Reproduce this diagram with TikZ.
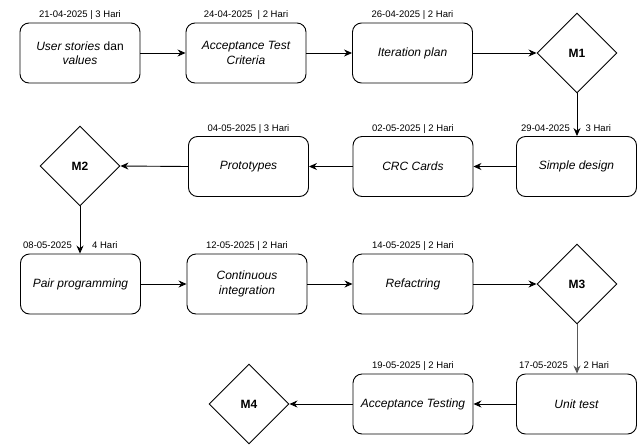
\documentclass[tikz,border=0pt]{standalone}
\usepackage{fontspec}
\setmainfont{Liberation Sans}
\usetikzlibrary{shapes.geometric,arrows.meta,calc}
\begin{document}
\begin{tikzpicture}[x=1pt,y=-1pt,
 box/.style={draw,rounded corners=9pt,line width=0.9pt,minimum width=120pt,minimum height=60pt,align=center,font=\fontsize{12}{14.5}\selectfont\itshape,inner sep=0pt},
 ms/.style={draw,diamond,minimum width=80pt,minimum height=80pt,inner sep=0pt,font=\fontsize{12}{14}\selectfont\bfseries,line width=0.9pt},
 date/.style={font=\fontsize{9.5}{11}\selectfont,inner sep=0pt},
 arr/.style={-{Stealth[length=8pt,width=7pt]},line width=0.9pt}]
\useasboundingbox (0,0) rectangle (637,445);
% row 1
\node[box] (b1) at (80,53) {User stories \upshape dan\\values};
\node[box] (b2) at (246,53) {Acceptance Test\\Criteria};
\node[box] (b3) at (412.5,53) {Iteration plan};
\node[ms] (m1) at (577,53) {M1};
% row 2
\node[box] (b4) at (576.5,166.5) {Simple design};
\node[box] (b5) at (413,166.5) {CRC Cards};
\node[box] (b6) at (248.5,166.5) {Prototypes};
\node[ms] (m2) at (80,166) {M2};
% row 3
\node[box] (b7) at (80.5,284) {Pair programming};
\node[box] (b8) at (247,284) {Continuous\\integration};
\node[box] (b9) at (413,284) {Refactring};
\node[ms] (m3) at (577,284) {M3};
% row 4
\node[box] (b10) at (576.5,404) {Unit test};
\node[box] (b11) at (413,404) {Acceptance Testing};
\node[ms] (m4) at (249,404) {M4};
% dates
\node[date,anchor=base] (d1) at ($(b1.north)+(0,-4.6)$) {21-04-2025 | 3 Hari};
\node[date,anchor=base] (d2) at ($(b2.north)+(0,-4.6)$) {24-04-2025 \ | 2 Hari};
\node[date,anchor=base] (d3) at ($(b3.north)+(0,-4.6)$) {26-04-2025 | 2 Hari};
\node[date,anchor=base east] (d4a) at ($(b4.north)+(-6.5,-4.6)$) {29-04-2025};
\node[date,anchor=base west] (d4b) at ($(b4.north)+(9,-4.6)$) {3 Hari};
\node[date,anchor=base] (d5) at ($(b5.north)+(0,-4.6)$) {02-05-2025 | 2 Hari};
\node[date,anchor=base] (d6) at ($(b6.north)+(0,-4.6)$) {04-05-2025 | 3 Hari};
\node[date,anchor=base east] (d7a) at ($(b7.north)+(-8.5,-4.6)$) {08-05-2025};
\node[date,anchor=base west] (d7b) at ($(b7.north)+(11.5,-4.6)$) {4 Hari};
\node[date,anchor=base] (d8) at ($(b8.north)+(0,-4.6)$) {12-05-2025 | 2 Hari};
\node[date,anchor=base] (d9) at ($(b9.north)+(0,-4.6)$) {14-05-2025 | 2 Hari};
\node[date,anchor=base east] (d10a) at ($(b10.north)+(-8.5,-4.6)$) {17-05-2025};
\node[date,anchor=base west] (d10b) at ($(b10.north)+(7,-4.6)$) {2 Hari};
\node[date,anchor=base] (d11) at ($(b11.north)+(0,-4.6)$) {19-05-2025 | 2 Hari};
% connectors
\draw[arr] (b1) -- (b2);
\draw[arr] (b2) -- (b3);
\draw[arr] (b3) -- (m1);
\draw[arr] (m1.south) -- (m1.south |- b4.north);
\draw[arr] (b4) -- (b5);
\draw[arr] (b5) -- (b6);
\draw[arr] (b6.west) -- (m2.east);
\draw[arr] (m2.south) -- (m2.south |- b7.north);
\draw[arr] (b7) -- (b8);
\draw[arr] (b8) -- (b9);
\draw[arr] (b9) -- (m3);
\draw[arr,draw=black!65,fill=black!65] (m3.south) -- (m3.south |- b10.north);
\draw[arr] (b10) -- (b11);
\draw[arr] (b11) -- (m4);
\end{tikzpicture}
\end{document}
